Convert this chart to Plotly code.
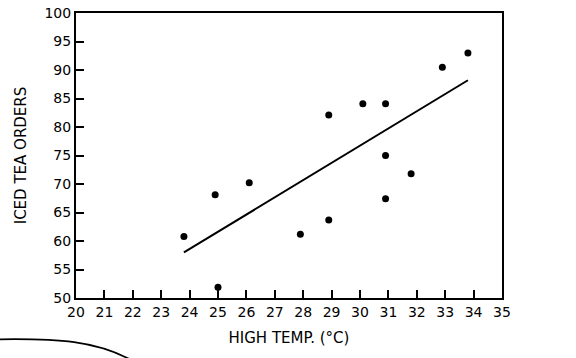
import plotly.graph_objects as go

temps = [23.8, 24.9, 25.0, 26.1, 27.9, 28.9, 28.9, 30.1, 30.9, 30.9, 30.9, 31.8, 32.9, 33.8]
orders = [60.8, 68.1, 51.9, 70.2, 61.2, 63.7, 82.1, 84.1, 84.1, 75.0, 67.4, 71.8, 90.5, 93.0]
trend_x = [23.8, 33.8]
trend_y = [58.0, 88.2]
x_ticks = list(range(20, 36))
y_ticks = list(range(50, 101, 5))

FONT = "DejaVu Sans"

fig = go.Figure()
fig.add_trace(go.Scatter(x=trend_x, y=trend_y, mode="lines",
                         line=dict(color="black", width=2), showlegend=False))
fig.add_trace(go.Scatter(x=temps, y=orders, mode="markers",
                         marker=dict(color="black", size=7), showlegend=False))

# decorative comic panel curve at bottom left (paper coordinates)
L, R, T, B = 76, 502, 13, 297.7
def px(x):
    return (x - L) / (R - L)
def py(y):
    return (B - y) / (B - T)
path = (f"M {px(-2):.4f},{py(339):.4f} C {px(60):.4f},{py(338):.4f} "
        f"{px(95):.4f},{py(341):.4f} {px(130):.4f},{py(359):.4f}")
fig.add_shape(type="path", xref="paper", yref="paper", path=path,
              line=dict(color="black", width=1.8))

fig.update_layout(
    width=576, height=358,
    margin=dict(l=76, r=74, t=13, b=60, autoexpand=False),
    paper_bgcolor="white", plot_bgcolor="white",
    font=dict(family=FONT, color="black", size=14),
    xaxis=dict(range=[20, 35], tickvals=x_ticks, ticktext=[str(v) for v in x_ticks],
               ticks="inside", ticklen=8, tickwidth=1.5, tickcolor="black",
               showline=True, linecolor="black", linewidth=2, mirror=True,
               showgrid=False, zeroline=False, automargin=False,
               tickfont=dict(size=14),
               title=dict(text="HIGH TEMP. (°C)", standoff=14, font=dict(size=15))),
    yaxis=dict(range=[50, 100], tickvals=y_ticks, ticktext=[str(v) for v in y_ticks],
               ticks="inside", ticklen=8, tickwidth=1.5, tickcolor="black",
               showline=True, linecolor="black", linewidth=2, mirror=True,
               showgrid=False, zeroline=False, automargin=False,
               tickfont=dict(size=14),
               title=dict(text="ICED TEA ORDERS", standoff=14, font=dict(size=15))),
)

fig.write_html("out.html", config={"displayModeBar": False},
               post_script="document.body.style.margin='0';document.body.style.padding='0';")
